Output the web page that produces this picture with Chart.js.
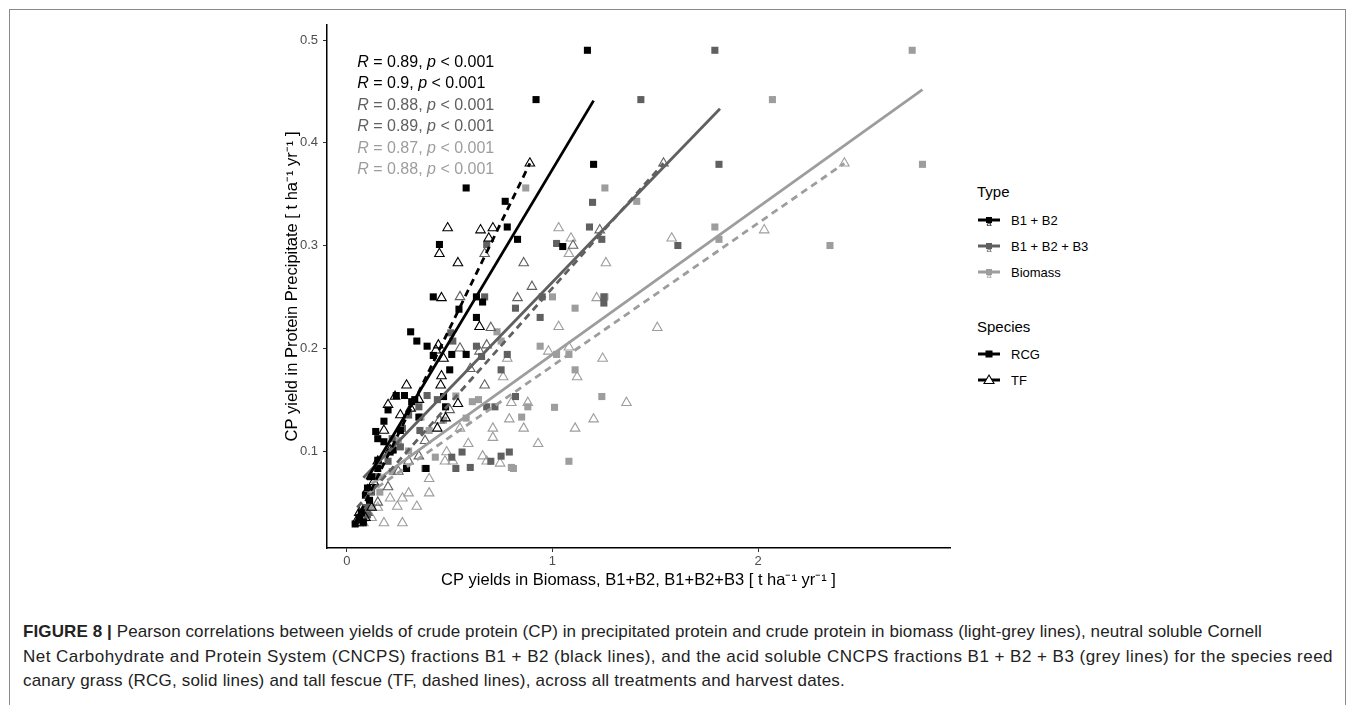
<!DOCTYPE html>
<html>
<head>
<meta charset="utf-8">
<script src="https://cdn.jsdelivr.net/npm/chart.js@4.4.0/dist/chart.umd.min.js"></script>
<style>
  body { margin:0; width:1355px; height:705px; background:#fff; overflow:hidden; position:relative;
         font-family:"Liberation Sans", Arial, sans-serif; }
  #frame { position:absolute; left:9px; top:9px; width:1337px; height:720px; border:1px solid #8a8a8a; box-sizing:border-box; }
  #wrap { position:absolute; left:240px; top:10px; width:720px; height:590px; }
  .lg { position:absolute; white-space:nowrap; line-height:1; }
  .lgTitle { font-size:15px; color:#000; }
  .lgItem { font-size:13px; color:#000; }
  #caption { position:absolute; left:23px; top:620px; font-size:17px; line-height:24.5px; color:#222; }
  #caption div { white-space:nowrap; display:block; width:max-content; }
</style>
</head>
<body>
<div id="frame"></div>
<div id="wrap"><canvas id="myChart" width="720" height="590"></canvas></div>
<div id="legend"></div>
<div id="caption">
  <div><b>FIGURE 8 |</b> Pearson correlations between yields of crude protein (CP) in precipitated protein and crude protein in biomass (light-grey lines), neutral soluble Cornell</div>
  <div>Net Carbohydrate and Protein System (CNCPS) fractions B1 + B2 (black lines), and the acid soluble CNCPS fractions B1 + B2 + B3 (grey lines) for the species reed</div>
  <div>canary grass (RCG, solid lines) and tall fescue (TF, dashed lines), across all treatments and harvest dates.</div>
</div>

<script>
    // legend / colours
    var typeNames = ['B1 + B2', 'B1 + B2 + B3', 'Biomass'];
    var typeColors = ['#000000', '#606060', '#9d9d9d'];
    var speciesNames = ['RCG', 'TF'];

    // axis ticks
    var xTicks = [0, 1, 2];
    var yTicks = [0.1, 0.2, 0.3, 0.4, 0.5];

    // R values printed top-left (B1+B2 RCG, TF, B1+B2+B3 RCG, TF, Biomass RCG, TF)
    var rValues = ['0.89', '0.9', '0.88', '0.89', '0.87', '0.88'];

    // points [x, y]
    var b12RCG = [[1.17,0.49],[0.92,0.442],[0.58,0.356],[0.77,0.343],[0.78,0.318],[0.83,0.306],[1.20,0.379],
        [1.05,0.299],[0.45,0.301],[0.42,0.25],[0.63,0.25],[0.66,0.245],[0.545,0.238],[0.63,0.23],[0.31,0.216],
        [0.34,0.207],[0.39,0.202],[0.42,0.193],[0.51,0.194],[0.58,0.194],[0.50,0.179],[0.28,0.154],[0.47,0.153],
        [0.33,0.15],[0.24,0.154],[0.315,0.148],[0.48,0.143],[0.35,0.133],[0.18,0.129],[0.14,0.119],[0.15,0.112],
        [0.18,0.109],[0.21,0.099],[0.225,0.101],[0.15,0.091],[0.15,0.083],[0.29,0.083],[0.385,0.083],[0.10,0.064],
        [0.09,0.057],[0.11,0.052],[0.06,0.035],[0.08,0.031],[0.04,0.029],[0.12,0.075],[0.2,0.14],[0.26,0.12],[0.07,0.04]];
    var b12TF = [[0.89,0.38],[0.49,0.317],[0.65,0.315],[0.71,0.317],[0.69,0.307],[0.45,0.292],[0.54,0.283],
        [0.46,0.249],[0.645,0.221],[0.445,0.203],[0.433,0.198],[0.47,0.19],[0.46,0.173],[0.456,0.164],[0.29,0.164],
        [0.234,0.153],[0.31,0.1415],[0.18,0.12],[0.21,0.101],[0.44,0.122],[0.48,0.132],[0.54,0.146],[0.1,0.062],
        [0.05,0.033],[0.07,0.03],[0.09,0.035],[0.12,0.045],[0.15,0.09],[0.2,0.145],[0.26,0.135],[0.35,0.15],
        [0.06,0.04],[0.13,0.07]];
    var b123RCG = [[1.79,0.49],[1.43,0.442],[1.81,0.379],[1.61,0.30],[1.24,0.306],[1.195,0.342],[1.18,0.318],
        [1.02,0.302],[0.68,0.301],[0.67,0.25],[0.95,0.25],[0.82,0.239],[0.94,0.23],[1.25,0.25],[1.25,0.244],
        [0.63,0.202],[0.78,0.194],[0.655,0.192],[0.75,0.179],[0.505,0.215],[0.515,0.207],[0.39,0.154],[0.82,0.153],
        [0.72,0.143],[0.68,0.143],[0.35,0.143],[0.56,0.099],[0.51,0.094],[0.53,0.083],[0.60,0.084],[0.70,0.09],
        [0.75,0.095],[0.79,0.099],[0.38,0.083],[0.26,0.104],[0.355,0.12],[0.27,0.122],[0.2,0.09],[0.15,0.075],
        [0.12,0.06],[0.09,0.045],[0.06,0.033],[0.1,0.038],[0.22,0.112],[0.3,0.135],[0.44,0.15]];
    var b123TF = [[1.54,0.38],[1.23,0.315],[0.67,0.292],[0.86,0.283],[0.83,0.249],[0.68,0.203],[0.645,0.197],
        [0.67,0.164],[0.55,0.25],[0.7,0.22],[0.6,0.18],[0.45,0.13],[0.38,0.11],[0.3,0.09],[0.25,0.08],[0.2,0.065],
        [0.15,0.05],[0.1,0.04],[0.06,0.03],[0.35,0.095],[0.5,0.14],[0.9,0.26],[0.55,0.2],[1.1,0.3]];
    var bioRCG = [[2.75,0.49],[2.07,0.442],[2.80,0.379],[2.35,0.30],[1.255,0.356],[1.41,0.343],[1.79,0.318],
        [1.81,0.306],[1.255,0.25],[0.87,0.356],[1.0,0.25],[1.11,0.239],[0.73,0.216],[0.94,0.202],[1.02,0.194],
        [1.08,0.194],[1.11,0.179],[1.24,0.153],[0.75,0.207],[1.01,0.1425],[0.85,0.133],[0.88,0.143],[0.64,0.15],
        [0.61,0.148],[0.58,0.132],[0.53,0.1535],[0.81,0.083],[0.80,0.084],[0.43,0.094],[0.36,0.133],[1.08,0.09],
        [0.3,0.1],[0.22,0.08],[0.16,0.06],[0.12,0.045],[0.09,0.035],[0.25,0.11],[0.4,0.12],[0.47,0.13]];
    var bioTF = [[2.42,0.38],[2.03,0.315],[1.58,0.307],[1.26,0.283],[1.51,0.22],[1.244,0.19],[1.36,0.147],
        [1.03,0.317],[1.08,0.292],[1.09,0.307],[1.215,0.249],[1.03,0.221],[1.08,0.201],[0.98,0.197],[1.12,0.172],
        [0.78,0.19],[0.76,0.172],[1.2,0.131],[1.11,0.122],[0.93,0.107],[0.86,0.122],[0.79,0.131],[0.71,0.122],
        [0.71,0.113],[0.66,0.095],[0.68,0.09],[0.745,0.088],[0.59,0.107],[0.55,0.122],[0.515,0.09],[0.477,0.09],
        [0.485,0.099],[0.88,0.147],[0.80,0.147],[0.40,0.073],[0.40,0.059],[0.34,0.046],[0.30,0.059],[0.27,0.03],
        [0.18,0.03],[0.245,0.046],[0.21,0.054],[0.27,0.054],[0.12,0.035],[0.08,0.03],[0.15,0.045]];

    // fitted lines, end points [x, y]
    var fitB12RCG = [[0.096,0.072],[1.20,0.441]];
    var fitB12TF = [[0.04,0.03],[0.89,0.38]];
    var fitB123RCG = [[0.08,0.074],[1.815,0.433]];
    var fitB123TF = [[0.05,0.045],[1.54,0.38]];
    var fitBioRCG = [[0.12,0.068],[2.80,0.4516]];
    var fitBioTF = [[0.1,0.058],[2.42,0.38]];

    var FONT = '"Liberation Sans", Arial, sans-serif';

    function pts(a) { return a.map(function (p) { return { x: p[0], y: p[1] }; }); }

    function fitSet(a, col, dashed) {
        return { data: pts(a), showLine: true, borderColor: col, borderWidth: 2.8,
                 borderDash: dashed ? [7, 5] : [], pointRadius: 0, fill: false };
    }
    function squareSet(a, col) {
        return { data: pts(a), pointStyle: 'rect', pointRadius: 5, backgroundColor: col,
                 borderWidth: 0, showLine: false };
    }
    function triSet(a, col) {
        return { data: pts(a), pointStyle: 'triangle', pointRadius: 5.5, backgroundColor: 'rgba(0,0,0,0)',
                 borderColor: col, borderWidth: 1.1, showLine: false };
    }

    // first dataset is drawn on top
    var datasets = [
        fitSet(fitB12RCG, typeColors[0], false),
        fitSet(fitB12TF, typeColors[0], true),
        fitSet(fitB123RCG, typeColors[1], false),
        fitSet(fitB123TF, typeColors[1], true),
        fitSet(fitBioRCG, typeColors[2], false),
        fitSet(fitBioTF, typeColors[2], true),
        squareSet(b12RCG, typeColors[0]),
        triSet(b12TF, typeColors[0]),
        squareSet(b123RCG, typeColors[1]),
        triSet(b123TF, typeColors[1]),
        squareSet(bioRCG, typeColors[2]),
        triSet(bioTF, typeColors[2])
    ];

    var statLabels = {
        id: 'statLabels',
        afterDatasetsDraw: function (chart) {
            var ctx = chart.ctx, x = chart.scales.x, y = chart.scales.y;
            ctx.save();
            ctx.textBaseline = 'middle';
            ctx.textAlign = 'left';
            for (var i = 0; i < rValues.length; i++) {
                var px = x.getPixelForValue(0.05);
                var py = y.getPixelForValue(0.4784 - i * 0.0209);
                ctx.fillStyle = typeColors[Math.floor(i / 2)];
                var parts = [['R', true], [' = ' + rValues[i] + ', ', false], ['p', true], [' < 0.001', false]];
                parts.forEach(function (p) {
                    ctx.font = (p[1] ? 'italic ' : '') + '16px ' + FONT;
                    ctx.fillText(p[0], px, py);
                    px += ctx.measureText(p[0]).width;
                });
            }
            ctx.restore();
        }
    };

    new Chart('myChart', {
        type: 'scatter',
        data: { datasets: datasets },
        plugins: [statLabels],
        options: {
            responsive: false,
            animation: false,
            devicePixelRatio: 1,
            layout: { padding: { top: 15, right: 10, left: 0, bottom: 0 } },
            plugins: { legend: { display: false }, tooltip: { enabled: false } },
            scales: {
                x: {
                    type: 'linear', min: -0.097, max: 2.934,
                    afterBuildTicks: function (s) { s.ticks = xTicks.map(function (v) { return { value: v }; }); },
                    afterFit: function (s) { s.height = 52; },
                    grid: { display: true, drawOnChartArea: false, drawTicks: true, tickLength: 4, color: '#333', lineWidth: 1 },
                    border: { display: true, color: '#000', width: 1.5 },
                    ticks: { color: '#4d4d4d', font: { size: 13, family: FONT }, padding: 2, maxRotation: 0,
                             callback: function (v) { return String(v); } },
                    title: { display: true, text: 'CP yields in Biomass, B1+B2, B1+B2+B3 [ t ha\u207B\u00B9 yr\u207B\u00B9 ]',
                             color: '#000', font: { size: 16.5, family: FONT }, padding: { top: 0, bottom: 10 } }
                },
                y: {
                    type: 'linear', min: 0.0056, max: 0.5146,
                    afterBuildTicks: function (s) { s.ticks = yTicks.map(function (v) { return { value: v }; }); },
                    afterFit: function (s) { s.width = 87; },
                    grid: { display: true, drawOnChartArea: false, drawTicks: true, tickLength: 4, color: '#333', lineWidth: 1 },
                    border: { display: true, color: '#000', width: 1.5 },
                    ticks: { color: '#4d4d4d', font: { size: 13, family: FONT }, padding: 5,
                             callback: function (v) { return v.toFixed(1); } },
                    title: { display: true, text: 'CP yield in Protein Precipitate [ t ha\u207B\u00B9 yr\u207B\u00B9 ]',
                             color: '#000', font: { size: 16.5, family: FONT }, padding: { top: 43, bottom: 0 } }
                }
            }
        }
    });

    // two-part legend (Type, Species) as html
    var lg = document.getElementById('legend');
    function add(html, cls, left, cy) {
        var d = document.createElement('div');
        d.className = 'lg ' + cls;
        d.innerHTML = html;
        d.style.left = left + 'px';
        lg.appendChild(d);
        d.style.top = (cy - d.offsetHeight / 2) + 'px';
        return d;
    }
    function glyph(col, marker, cy) {
        var svg = '<svg width="24" height="14" xmlns="http://www.w3.org/2000/svg">' +
            '<line x1="1" y1="7" x2="23" y2="7" stroke="' + col + '" stroke-width="3"/>';
        if (marker === 'square') svg += '<rect x="8.5" y="3.5" width="7" height="7" fill="' + col + '"/>';
        if (marker === 'typeKey') svg += '<rect x="9" y="4" width="6" height="6" fill="' + col + '"/>' +
            '<text x="12" y="13" font-size="9" text-anchor="middle" fill="' + col + '" font-family="Liberation Sans, Arial">a</text>';
        if (marker === 'tri') svg += '<polygon points="12,2 17,10.5 7,10.5" fill="#fff" stroke="' + col + '" stroke-width="1.1"/>';
        svg += '</svg>';
        var d = add(svg, '', 977, cy);
        d.style.top = (cy - 7) + 'px';
    }
    add('Type', 'lgTitle', 977, 191);
    var typeY = [220, 246, 272];
    typeNames.forEach(function (n, i) {
        glyph(typeColors[i], 'typeKey', typeY[i]);
        add(n, 'lgItem', 1011, typeY[i]);
    });
    add('Species', 'lgTitle', 977, 326);
    var spY = [354, 380];
    speciesNames.forEach(function (n, i) {
        glyph('#000', i === 0 ? 'square' : 'tri', spY[i]);
        add(n, 'lgItem', 1011, spY[i]);
    });

    // stretch each caption line to the width it has in the figure
    var captionWidths = [1239, 1310, 822];
    var lines = document.querySelectorAll('#caption div');
    lines.forEach(function (el, i) {
        var w = el.getBoundingClientRect().width;
        var n = el.textContent.length;
        el.style.letterSpacing = ((captionWidths[i] - w) / n) + 'px';
    });
</script>
</body>
</html>
